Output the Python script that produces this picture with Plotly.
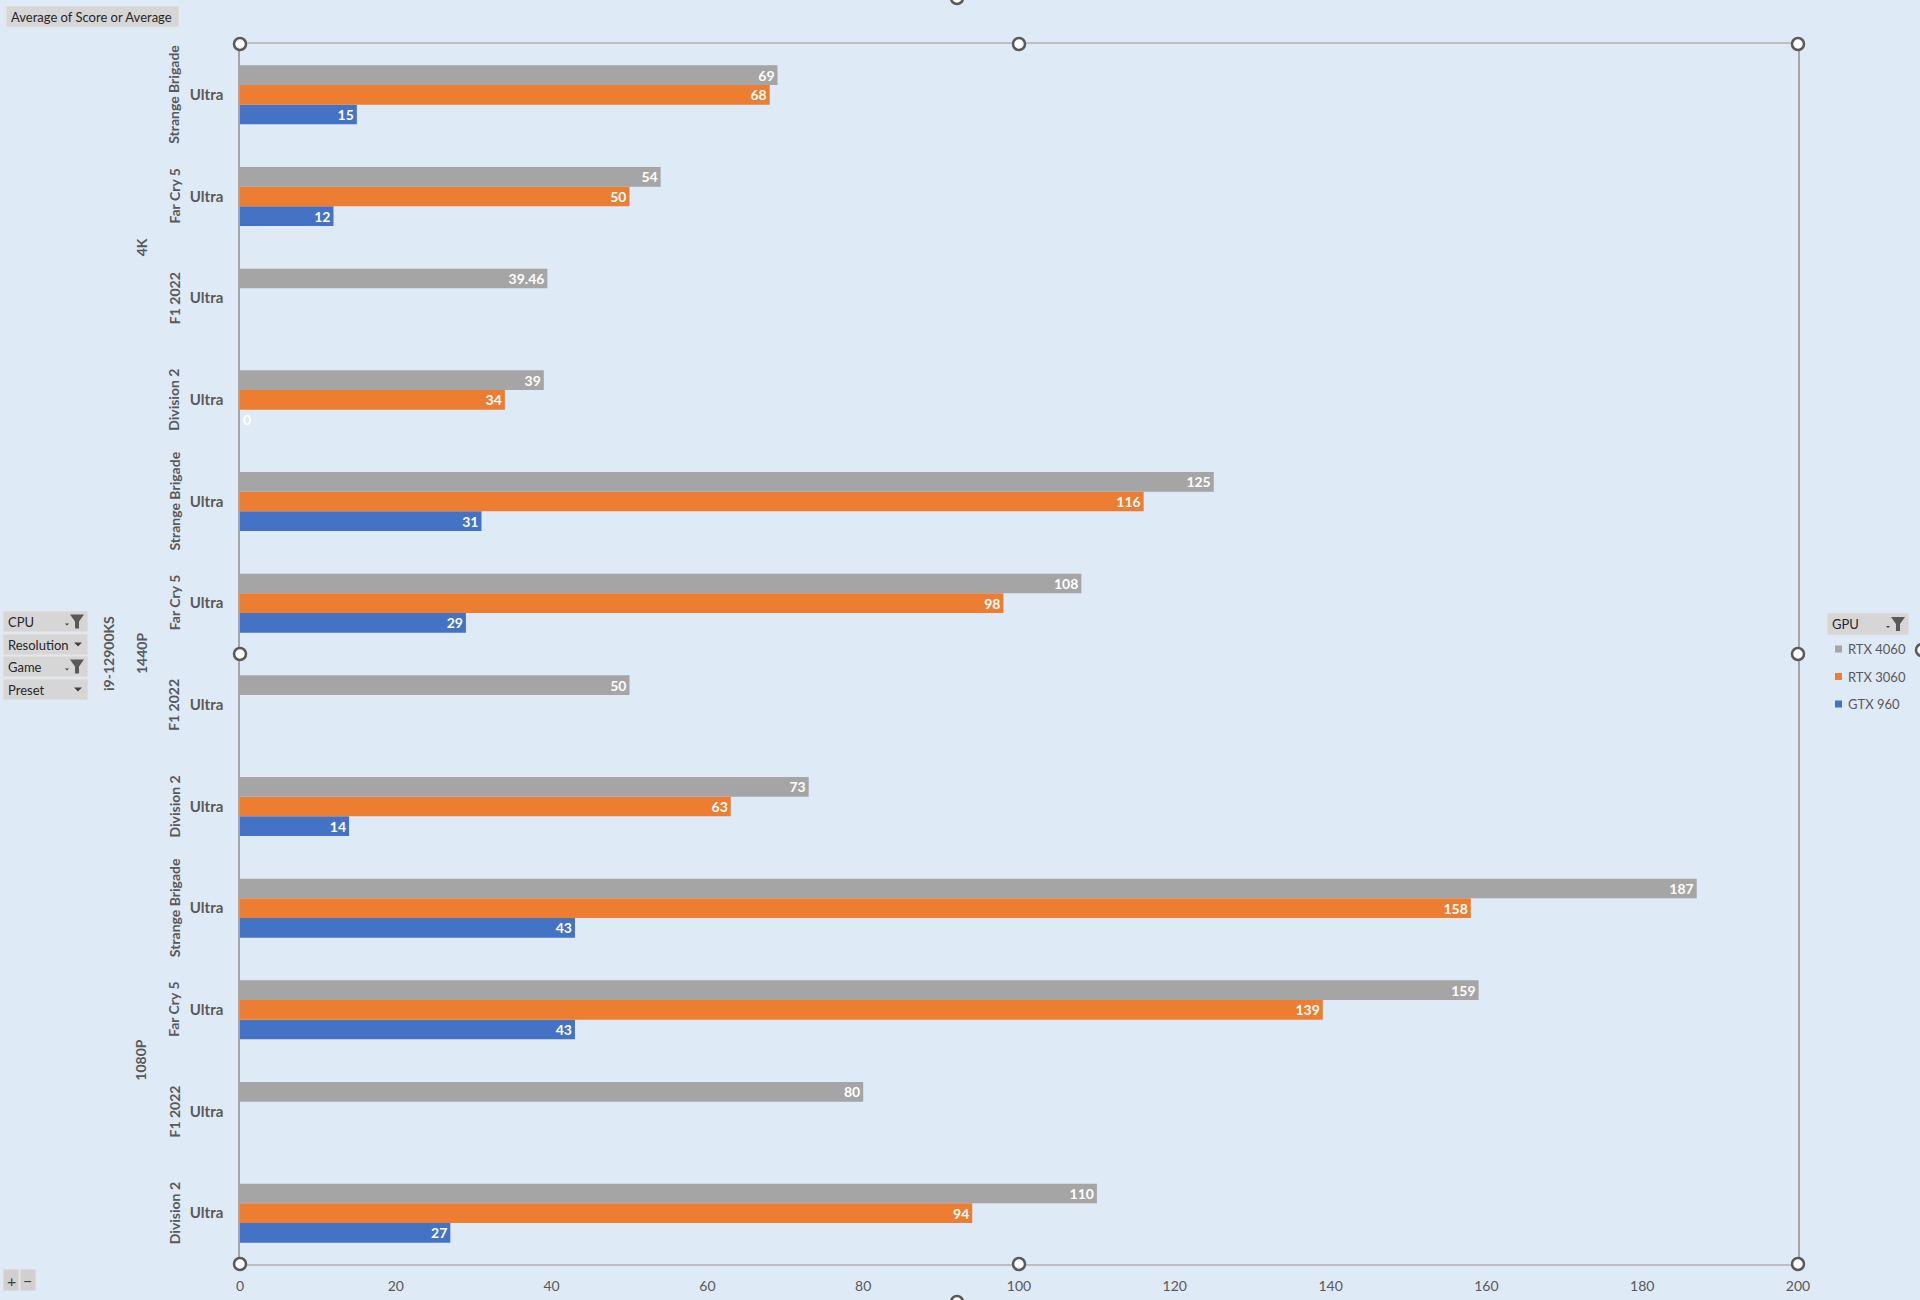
import plotly.graph_objects as go

# pivot fields
cpu = "i9-12900KS"
resolutions = ["1080P", "1440P", "4K"]
games = ["Division 2", "F1 2022", "Far Cry 5", "Strange Brigade"]
preset = "Ultra"

# values, bottom to top (1080P Division 2 ... 4K Strange Brigade)
rtx4060 = [110, 80, 159, 187, 73, 50, 108, 125, 39, 39.46, 54, 69]
rtx3060 = [94, None, 139, 158, 63, None, 98, 116, 34, None, 50, 68]
gtx960 = [27, None, 43, 43, 14, None, 29, 31, 0, None, 12, 15]

x_ticks = [0, 20, 40, 60, 80, 100, 120, 140, 160, 180, 200]

W, H = 1920, 1300
L, R, T, B = 240, 1798, 44, 1264  # plot area in pixels

BG = "#DEEAF6"
TXT = "#595959"
FONT = "Lato"


def px_x(x):
    return (x - L) / (R - L)


def px_y(y):
    return (B - y) / (B - T)


rows = [(r, g) for r in resolutions for g in games]
ypos = list(range(len(rows)))

fig = go.Figure()


def add_series(name, vals, color):
    text = ["" if v is None else f"{v:g}" for v in vals]
    pos = ["outside" if v == 0 else "inside" for v in vals]
    fig.add_trace(go.Bar(
        name=name, x=vals, y=ypos, orientation="h", showlegend=False,
        marker=dict(color=color, line=dict(width=0)),
        text=text, textposition=pos, insidetextanchor="end",
        textangle=0, constraintext="none", cliponaxis=False,
        textfont=dict(family=FONT, size=14, color="white", weight="bold"),
        hoverinfo="skip",
    ))


series = [("GTX 960", gtx960, "#4472C4"),
          ("RTX 3060", rtx3060, "#ED7D31"),
          ("RTX 4060", rtx4060, "#A5A5A5")]
for name, vals, color in series:
    add_series(name, vals, color)

fig.update_layout(
    width=W, height=H,
    margin=dict(l=L, r=W - R, t=T, b=H - B, pad=0, autoexpand=False),
    paper_bgcolor=BG, plot_bgcolor=BG,
    barmode="group", bargap=0.42, bargroupgap=0,
    font=dict(family=FONT, size=14, color=TXT),
    xaxis=dict(
        range=[0, 200], tickvals=x_ticks, showgrid=False, zeroline=False,
        showline=True, linecolor="#BFBFBF", linewidth=1.5, mirror=True,
        ticks="", tickfont=dict(size=14, color=TXT), ticklabelstandoff=8,
        fixedrange=True, automargin=False,
    ),
    yaxis=dict(
        range=[-0.5, len(rows) - 0.5], tickvals=ypos,
        ticktext=[preset] * len(rows), showgrid=False, zeroline=False,
        showline=True, linecolor="#A6A6A6", linewidth=1.5, mirror=True,
        ticks="", tickfont=dict(size=15, color=TXT, weight="bold"),
        ticklabelstandoff=12, fixedrange=True, automargin=False,
    ),
)

# game / resolution / cpu labels of the pivot category axis
lab_font = dict(size=14, color=TXT, weight="bold")
for i, (r, g) in enumerate(rows):
    fig.add_annotation(x=0, xref="paper", y=i, yref="y", xshift=-66,
                       xanchor="center", yanchor="middle",
                       text=g, textangle=-90, showarrow=False, font=lab_font)
for k, r in enumerate(resolutions):
    fig.add_annotation(x=0, xref="paper", y=k * len(games) + (len(games) - 1) / 2,
                       yref="y", xshift=-99, xanchor="center", yanchor="middle",
                       text=r, textangle=-90, showarrow=False, font=lab_font)
fig.add_annotation(x=0, xref="paper", y=(len(rows) - 1) / 2, yref="y", xshift=-132,
                   xanchor="center", yanchor="middle",
                   text=cpu, textangle=-90, showarrow=False, font=lab_font)

shapes = []

# legend (pivot style, top to bottom: RTX 4060, RTX 3060, GTX 960)
for j, (name, vals, color) in enumerate(reversed(series)):
    cy = 649 + j * 27.5
    shapes.append(dict(type="rect", xref="paper", yref="paper",
                       x0=px_x(1835), x1=px_x(1842), y0=px_y(cy + 3.5), y1=px_y(cy - 3.5),
                       fillcolor=color, line=dict(width=0)))
    fig.add_annotation(x=px_x(1846), y=px_y(cy), xref="paper", yref="paper",
                       xanchor="left", yanchor="middle", text=name, showarrow=False,
                       font=dict(family=FONT, size=13, color=TXT))


# field buttons
def button(x0, y0, x1, y1, label, icon=None):
    shapes.append(dict(type="rect", xref="paper", yref="paper",
                       x0=px_x(x0), x1=px_x(x1), y0=px_y(y1), y1=px_y(y0),
                       fillcolor="#D6D6D6", line=dict(color="#E6E6E6", width=1),
                       layer="above"))
    fig.add_annotation(x=px_x(x0 + 3), y=px_y((y0 + y1) / 2), xref="paper", yref="paper",
                       xanchor="left", yanchor="middle", text=label, showarrow=False,
                       font=dict(family=FONT, size=13, color="#262626"))
    if icon == "arrow":
        cx, cy = x1 - 10, (y0 + y1) / 2
        shapes.append(dict(type="path", xref="paper", yref="paper",
                           path=f"M {px_x(cx-4)},{px_y(cy-2)} L {px_x(cx+4)},{px_y(cy-2)} L {px_x(cx)},{px_y(cy+2)} Z",
                           fillcolor="#404040", line=dict(width=0), layer="above"))
    elif icon == "filter":
        cx, cy = x1 - 11, (y0 + y1) / 2
        shapes.append(dict(type="path", xref="paper", yref="paper",
                           path=(f"M {px_x(cx-7)},{px_y(cy-7)} L {px_x(cx+7)},{px_y(cy-7)} "
                                 f"L {px_x(cx+2)},{px_y(cy)} L {px_x(cx+2)},{px_y(cy+7)} "
                                 f"L {px_x(cx-2)},{px_y(cy+7)} L {px_x(cx-2)},{px_y(cy)} Z"),
                           fillcolor="#595959", line=dict(width=0), layer="above"))
        shapes.append(dict(type="path", xref="paper", yref="paper",
                           path=f"M {px_x(cx-12)},{px_y(cy+2)} L {px_x(cx-8)},{px_y(cy+2)} L {px_x(cx-10)},{px_y(cy+4)} Z",
                           fillcolor="#404040", line=dict(width=0), layer="above"))


button(6, 6, 179, 27, "Average of Score or Average")
button(3, 611, 88, 632, "CPU", "filter")
button(3, 634, 88, 655, "Resolution", "arrow")
button(3, 656, 88, 677, "Game", "filter")
button(3, 679, 88, 700, "Preset", "arrow")
button(1827, 613, 1909, 635, "GPU", "filter")

# zoom +/- buttons
for bx, sym in [(3, "+"), (20, "−")]:
    shapes.append(dict(type="rect", xref="paper", yref="paper",
                       x0=px_x(bx), x1=px_x(bx + 16), y0=px_y(1291), y1=px_y(1269),
                       fillcolor="#D0D0D0", line=dict(color="#E6E6E6", width=1)))
    fig.add_annotation(x=px_x(bx + 8), y=px_y(1280), xref="paper", yref="paper",
                       xanchor="center", yanchor="middle",
                       text=sym, showarrow=False, font=dict(size=16, color="#404040"))

# selection handles
handles = [(L, T), ((L + R) / 2, T), (R, T), (L, (T + B) / 2), (R, (T + B) / 2),
           (L, B), ((L + R) / 2, B), (R, B), (957, -2), (957, 1302), (1922, 650)]
for hx, hy in handles:
    shapes.append(dict(type="circle", xref="paper", yref="paper",
                       xsizemode="pixel", ysizemode="pixel",
                       xanchor=px_x(hx), yanchor=px_y(hy),
                       x0=-6, x1=6, y0=-6, y1=6,
                       fillcolor="white", line=dict(color="#595959", width=2.5),
                       layer="above"))

fig.update_layout(shapes=shapes)

fig.write_html("out.html", config={"displayModeBar": False},
               post_script="document.body.style.margin='0';document.body.style.overflow='hidden';")
